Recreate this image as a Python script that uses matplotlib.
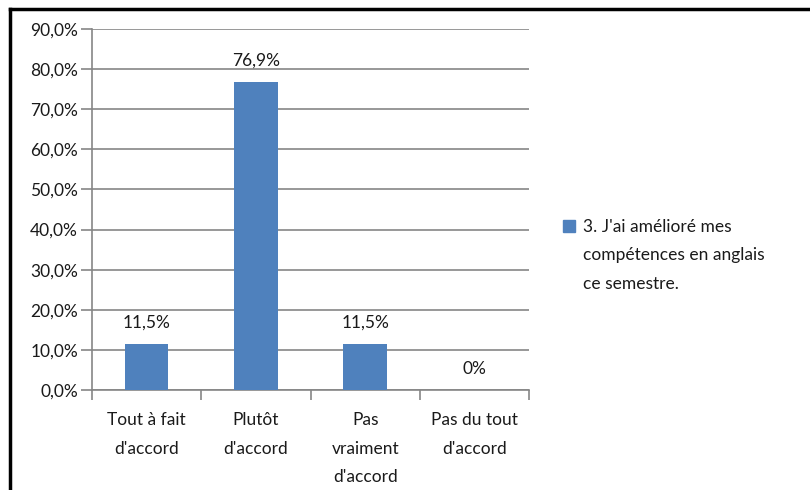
import matplotlib.pyplot as plt
from matplotlib.lines import Line2D
from matplotlib.patches import Rectangle
from matplotlib.ticker import FixedLocator

plt.rcParams['font.family'] = ['Lato', 'DejaVu Sans']

categories = ["Tout à fait\nd'accord", "Plutôt\nd'accord", "Pas\nvraiment\nd'accord", "Pas du tout\nd'accord"]
values = [11.5, 76.9, 11.5, 0.0]
value_labels = ['11,5%', '76,9%', '11,5%', '0%']
y_ticks = [0, 10, 20, 30, 40, 50, 60, 70, 80, 90]
y_tick_labels = ['%d,0%%' % t for t in y_ticks]
series_name = "3. J'ai amélioré mes\ncompétences en anglais\nce semestre."

bar_color = '#4F81BD'
grid_color = '#868686'
text_color = '#1a1a1a'
fs = 12.5

fig = plt.figure(figsize=(8.1, 4.9), dpi=100)
ax = fig.add_axes([0.1136, 0.204, 0.5395, 0.7368])

x = range(len(categories))
ax.bar(x, values, width=0.4, color=bar_color, zorder=3)

for xi, v, lab in zip(x, values, value_labels):
    ax.text(xi, v + 3.2, lab, ha='center', va='bottom', fontsize=fs, color=text_color)

ax.set_xlim(-0.5, len(categories) - 0.5)
ax.set_ylim(0, 90)
ax.set_yticks(y_ticks)
ax.set_yticklabels(y_tick_labels, fontsize=fs, color=text_color)
ax.yaxis.grid(True, color=grid_color, linewidth=1.2, zorder=0)
ax.tick_params(axis='y', length=8, width=1.2, color=grid_color, pad=2)

ax.set_xticks(list(x))
ax.set_xticklabels(categories, fontsize=fs, color=text_color, linespacing=1.95)
ax.tick_params(axis='x', which='major', length=0, pad=16)
ax.xaxis.set_minor_locator(FixedLocator([i - 0.5 for i in range(len(categories) + 1)]))
ax.tick_params(axis='x', which='minor', length=7, width=1.2, color=grid_color)

for side in ['top', 'right']:
    ax.spines[side].set_visible(False)
for side in ['left', 'bottom']:
    ax.spines[side].set_color(grid_color)
    ax.spines[side].set_linewidth(1.2)

# legend: square marker plus wrapped series name
fig.add_artist(Rectangle((563 / 810, 1 - 232 / 490), 12 / 810, 12 / 490,
                         transform=fig.transFigure, color=bar_color))
fig.text(583 / 810, 1 - 219 / 490, series_name, fontsize=fs, color=text_color,
         va='top', ha='left', linespacing=1.95)

# outer frame (only top and left visible in the crop)
fig.add_artist(Line2D([0.0125, 1.0], [0.9816, 0.9816], color='black', linewidth=2.5, transform=fig.transFigure))
fig.add_artist(Line2D([0.0125, 0.0125], [0.0, 0.9816], color='black', linewidth=2.5, transform=fig.transFigure))

fig.savefig('out.png', dpi=100, facecolor='white')
